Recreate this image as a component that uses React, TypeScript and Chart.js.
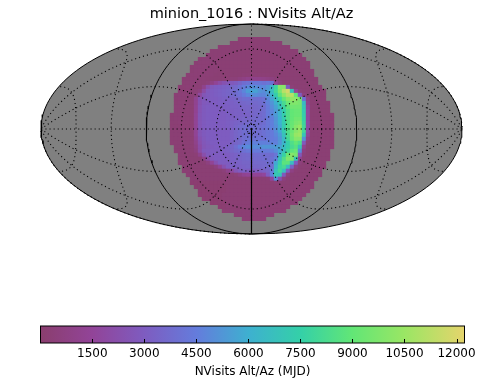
import React, { useEffect, useRef } from "react";
import { Chart, registerables } from "chart.js";

Chart.register(...registerables);

const titleText = "minion_1016 : NVisits Alt/Az";
const colorBarLabel = "NVisits Alt/Az (MJD)";
const colorBarTicks = [1500, 3000, 4500, 6000, 7500, 9000, 10500, 12000];
const colorMin = 6;
const colorMax = 12230;
const colorStops: [number, number[]][] = [
  [0, [138, 62, 110]],
  [1500, [146, 68, 152]],
  [3000, [126, 92, 192]],
  [4500, [100, 124, 220]],
  [6000, [62, 176, 208]],
  [7500, [52, 208, 168]],
  [9000, [98, 230, 118]],
  [10500, [154, 230, 100]],
  [12230, [229, 212, 108]],
];

// Grid rings (degrees from the zenith) and spokes (degrees of azimuth).
const dottedRings = [4, 30, 60, 120, 150];
const horizonRings = [90];
const spokeAzimuths = [0, 30, 60, 90, 120, 150, 180, 210, 240, 270, 300, 330];

// NVisits per sky cell, in hundreds of visits, top row to bottom row.
const visitUnit = 100;
const rowFirstColumn = [18, 16, 13, 11, 10, 8, 7, 6, 6, 5, 4, 4, 3, 3, 2, 2, 2, 2, 2, 1, 1, 1, 1, 1, 1, 1, 1, 2, 2, 3, 3, 3, 4, 4, 5, 6, 6, 7, 8, 8, 9, 11, 13, 14, 17, 19];
const visitRows: number[][] = [
  [2, 2, 2, 2, 2, 2, 2, 2],
  [2, 2, 2, 2, 2, 2, 2, 2, 2, 2, 2, 2, 2],
  [2, 2, 2, 2, 2, 2, 2, 2, 2, 2, 2, 2, 2, 2, 2, 2, 2, 2],
  [2, 2, 2, 2, 2, 2, 2, 2, 2, 2, 2, 2, 2, 2, 2, 2, 2, 2, 2, 2, 2, 2],
  [2, 2, 2, 2, 2, 2, 2, 2, 2, 2, 2, 2, 2, 2, 2, 2, 2, 2, 2, 2, 2, 2, 2, 2],
  [2, 3, 3, 3, 2, 2, 2, 2, 2, 2, 2, 2, 2, 2, 2, 2, 2, 2, 2, 2, 2, 2, 2, 2, 2, 2, 2],
  [2, 3, 3, 3, 3, 3, 2, 2, 2, 2, 2, 2, 2, 2, 2, 2, 2, 2, 2, 2, 2, 2, 2, 2, 2, 2, 2, 2, 2],
  [2, 3, 3, 3, 3, 3, 3, 2, 2, 2, 2, 2, 2, 2, 2, 2, 2, 2, 2, 2, 2, 2, 2, 2, 2, 2, 2, 2, 2, 2],
  [2, 3, 3, 3, 3, 3, 3, 2, 2, 2, 2, 2, 2, 2, 2, 2, 2, 2, 2, 2, 2, 2, 2, 2, 2, 2, 2, 2, 2, 2, 2],
  [2, 3, 3, 3, 3, 3, 3, 2, 2, 2, 2, 2, 2, 2, 3, 3, 3, 3, 3, 3, 3, 2, 2, 2, 2, 2, 2, 2, 2, 2, 2, 2],
  [2, 2, 3, 3, 3, 3, 2, 2, 2, 2, 3, 3, 4, 4, 6, 8, 10, 10, 10, 10, 9, 8, 6, 4, 3, 2, 2, 2, 2, 2, 2, 2, 2, 2],
  [2, 2, 3, 3, 3, 3, 4, 8, 14, 20, 24, 26, 28, 30, 34, 38, 40, 42, 42, 42, 40, 42, 40, 14, 6, 2, 2, 2, 2, 2, 2, 2, 2, 2],
  [2, 2, 3, 3, 3, 3, 10, 22, 28, 30, 31, 32, 33, 34, 36, 40, 44, 48, 50, 50, 48, 48, 52, 62, 78, 100, 100, 30, 4, 2, 2, 2, 2, 2, 2, 2],
  [2, 2, 3, 3, 4, 6, 20, 28, 30, 31, 32, 33, 34, 36, 38, 42, 48, 54, 56, 56, 52, 50, 54, 66, 80, 96, 112, 118, 70, 14, 4, 2, 2, 2, 2, 2, 2],
  [2, 3, 3, 3, 3, 4, 18, 26, 29, 30, 31, 32, 33, 34, 36, 38, 40, 44, 48, 50, 50, 48, 48, 52, 62, 74, 88, 102, 112, 112, 90, 30, 6, 2, 2, 2, 2, 2],
  [2, 3, 3, 3, 3, 12, 24, 28, 29, 30, 30, 31, 32, 32, 33, 34, 36, 38, 38, 38, 38, 38, 40, 48, 56, 66, 78, 90, 100, 104, 102, 96, 40, 8, 2, 2, 2, 2],
  [2, 3, 3, 3, 3, 12, 24, 28, 29, 30, 30, 31, 31, 32, 32, 33, 34, 35, 36, 36, 36, 37, 39, 46, 52, 60, 70, 82, 92, 98, 98, 96, 64, 10, 2, 2, 2, 2, 2],
  [3, 3, 3, 3, 3, 13, 25, 29, 30, 30, 30, 30, 31, 31, 32, 32, 33, 34, 34, 34, 35, 36, 38, 44, 50, 56, 66, 78, 88, 94, 94, 94, 70, 14, 2, 2, 2, 2, 2],
  [3, 3, 3, 3, 3, 13, 25, 29, 30, 30, 30, 30, 30, 31, 31, 32, 32, 33, 34, 34, 35, 36, 38, 44, 48, 54, 62, 74, 84, 90, 92, 92, 72, 16, 2, 2, 2, 2, 2],
  [2, 3, 3, 3, 3, 3, 14, 26, 29, 30, 30, 30, 30, 30, 31, 31, 32, 32, 33, 33, 34, 35, 36, 38, 44, 48, 54, 62, 74, 84, 90, 92, 92, 74, 16, 2, 2, 2, 2, 2, 2],
  [2, 3, 3, 3, 3, 3, 14, 26, 29, 30, 30, 30, 30, 30, 31, 31, 32, 33, 34, 34, 35, 36, 37, 38, 42, 46, 52, 60, 72, 84, 90, 94, 94, 76, 16, 2, 2, 2, 2, 2, 2],
  [2, 2, 3, 3, 3, 3, 14, 26, 29, 30, 30, 30, 30, 30, 31, 32, 33, 34, 35, 36, 36, 37, 37, 38, 42, 46, 52, 60, 72, 84, 91, 96, 98, 78, 18, 2, 2, 2, 2, 2, 2],
  [2, 2, 2, 3, 3, 3, 14, 26, 29, 30, 30, 30, 30, 30, 31, 32, 34, 36, 38, 38, 38, 38, 38, 40, 42, 46, 50, 58, 72, 84, 92, 100, 104, 80, 18, 2, 2, 2, 2, 2, 2],
  [2, 2, 2, 2, 3, 3, 14, 26, 29, 30, 30, 30, 30, 30, 30, 32, 34, 36, 38, 38, 38, 38, 38, 40, 42, 44, 50, 58, 72, 84, 92, 100, 104, 80, 18, 2, 2, 2, 2, 2, 2],
  [2, 2, 2, 2, 2, 3, 14, 26, 29, 30, 30, 30, 30, 30, 30, 32, 34, 36, 38, 38, 38, 38, 38, 40, 42, 44, 48, 54, 68, 82, 94, 104, 106, 70, 14, 2, 2, 2, 2, 2, 2],
  [2, 2, 2, 2, 2, 3, 12, 24, 28, 30, 30, 30, 30, 30, 30, 32, 34, 36, 38, 40, 40, 40, 40, 40, 42, 44, 46, 52, 64, 80, 92, 100, 100, 52, 8, 2, 2, 2, 2, 2, 2],
  [2, 2, 2, 2, 2, 3, 10, 22, 27, 29, 30, 30, 30, 30, 30, 32, 34, 36, 40, 44, 46, 46, 46, 46, 46, 46, 46, 52, 62, 74, 84, 90, 84, 28, 4, 2, 2, 2, 2, 2, 2],
  [2, 2, 2, 2, 3, 8, 20, 26, 28, 29, 30, 30, 30, 32, 34, 38, 44, 48, 50, 50, 50, 50, 52, 52, 52, 54, 56, 66, 74, 82, 86, 70, 12, 2, 2, 2, 2, 2, 2, 2],
  [2, 2, 2, 2, 3, 6, 20, 28, 29, 30, 30, 30, 31, 32, 34, 36, 38, 40, 42, 44, 44, 44, 44, 44, 46, 50, 58, 68, 78, 88, 92, 50, 6, 2, 2, 2, 2, 2, 2],
  [2, 2, 2, 2, 3, 10, 22, 28, 30, 30, 30, 30, 30, 32, 33, 34, 35, 36, 37, 38, 38, 38, 38, 38, 42, 62, 76, 92, 100, 96, 28, 4, 2, 2, 2, 2, 2, 2],
  [2, 2, 2, 2, 2, 2, 10, 20, 28, 30, 30, 30, 30, 32, 33, 34, 35, 36, 36, 37, 37, 38, 38, 40, 46, 68, 84, 98, 98, 70, 12, 2, 2, 2, 2, 2, 2, 2],
  [2, 2, 2, 2, 2, 2, 2, 6, 14, 24, 30, 30, 30, 32, 32, 33, 34, 34, 35, 36, 36, 36, 38, 40, 58, 74, 88, 88, 66, 30, 5, 2, 2, 2, 2, 2, 2],
  [2, 2, 2, 2, 2, 2, 2, 2, 6, 14, 24, 30, 32, 32, 32, 33, 34, 34, 34, 35, 36, 36, 38, 62, 78, 82, 66, 32, 8, 2, 2, 2, 2, 2, 2, 2],
  [2, 2, 2, 2, 2, 2, 2, 2, 2, 2, 4, 10, 18, 26, 30, 32, 30, 30, 30, 30, 32, 34, 44, 68, 80, 66, 30, 8, 3, 2, 2, 2, 2, 2, 2],
  [2, 2, 2, 2, 2, 2, 2, 2, 2, 2, 2, 2, 4, 8, 12, 14, 14, 14, 14, 16, 30, 46, 72, 68, 28, 6, 2, 2, 2, 2, 2, 2, 2, 2],
  [2, 2, 2, 2, 2, 2, 2, 2, 2, 2, 2, 2, 2, 2, 2, 2, 2, 2, 2, 3, 16, 50, 24, 6, 2, 2, 2, 2, 2, 2, 2, 2],
  [1, 1, 1, 1, 1, 1, 1, 1, 2, 2, 2, 2, 2, 2, 2, 2, 2, 2, 2, 2, 2, 3, 3, 2, 2, 2, 2, 2, 2, 2, 2],
  [1, 1, 1, 1, 1, 1, 1, 1, 2, 2, 2, 2, 2, 2, 2, 2, 2, 2, 2, 2, 2, 2, 2, 2, 2, 2, 2, 2, 2, 2],
  [1, 1, 1, 1, 1, 1, 1, 2, 2, 2, 2, 2, 2, 2, 2, 2, 2, 2, 2, 2, 2, 2, 2, 2, 2, 2, 2, 2],
  [1, 1, 1, 1, 1, 1, 2, 2, 2, 2, 2, 2, 2, 2, 2, 2, 2, 2, 2, 2, 2, 2, 2, 2, 2, 2, 2],
  [1, 1, 1, 1, 1, 2, 2, 2, 2, 2, 2, 2, 2, 2, 2, 2, 2, 2, 2, 2, 2, 2, 2, 2, 2],
  [1, 1, 1, 1, 2, 2, 2, 2, 2, 2, 2, 2, 2, 2, 2, 2, 2, 2, 2, 2, 2, 2],
  [1, 1, 2, 2, 2, 2, 2, 2, 2, 2, 2, 2, 2, 2, 2, 2, 2, 2],
  [2, 2, 2, 2, 2, 2, 2, 2, 2, 2, 2, 2, 2, 2, 2, 2],
  [2, 2, 2, 2, 2, 2, 2, 2, 2, 2],
  [2, 2, 2, 2, 2, 2],
];

const RAD = Math.PI / 180;
const SQRT2 = Math.SQRT2;
const GAP = { x: NaN, y: NaN };

function mollweide(lon: number, lat: number) {
  let t = lat;
  if (Math.abs(lat) < Math.PI / 2 - 1e-6) {
    for (let i = 0; i < 30; i++) {
      const f = 2 * t + Math.sin(2 * t) - Math.PI * Math.sin(lat);
      t -= f / (2 + 2 * Math.cos(2 * t));
    }
  }
  return { x: ((2 * SQRT2) / Math.PI) * lon * Math.cos(t), y: SQRT2 * Math.sin(t) };
}

// Point at angular distance theta from the zenith (the map's centre), in direction az.
function zenithPoint(theta: number, az: number) {
  const px = Math.cos(theta * RAD);
  const py = Math.sin(theta * RAD) * Math.cos(az * RAD);
  const pz = Math.sin(theta * RAD) * Math.sin(az * RAD);
  return { lon: Math.atan2(py, px), lat: Math.asin(Math.max(-1, Math.min(1, pz))) };
}

function trace(samples: { lon: number; lat: number }[]) {
  const out: { x: number; y: number }[] = [];
  let prev: number | null = null;
  for (const s of samples) {
    if (prev !== null && Math.abs(s.lon - prev) > Math.PI) out.push(GAP);
    out.push(mollweide(s.lon, s.lat));
    prev = s.lon;
  }
  out.push(GAP);
  return out;
}

function ringPoints(rings: number[]) {
  return rings.flatMap((theta) => {
    const samples = [];
    for (let a = 0; a <= 360; a += 2) samples.push(zenithPoint(theta, a));
    return trace(samples);
  });
}

function spokePoints() {
  return spokeAzimuths.flatMap((az) => {
    const samples = [];
    for (let t = 0; t <= 180; t += 2) samples.push(zenithPoint(t, az));
    return trace(samples);
  });
}

function outlinePoints() {
  const pts = [];
  for (let l = -90; l <= 90; l += 2) pts.push(mollweide(Math.PI, l * RAD));
  for (let l = 90; l >= -90; l -= 2) pts.push(mollweide(-Math.PI, l * RAD));
  pts.push(pts[0]);
  return pts;
}

function azimuthLine() {
  const pts = [];
  for (let l = 0; l >= -90; l -= 5) pts.push(mollweide(0, l * RAD));
  return pts;
}

function colorFor(v: number) {
  for (let i = 1; i < colorStops.length; i++) {
    const [v1, c1] = colorStops[i];
    const [v0, c0] = colorStops[i - 1];
    if (v <= v1) {
      const f = Math.max(0, (v - v0) / (v1 - v0));
      const c = c0.map((k, n) => Math.round(k + (c1[n] - k) * f));
      return `rgb(${c[0]},${c[1]},${c[2]})`;
    }
  }
  const last = colorStops[colorStops.length - 1][1];
  return `rgb(${last[0]},${last[1]},${last[2]})`;
}

const FONT = "'DejaVu Sans'";
const PX_PER_UNIT = 421 / (4 * SQRT2);
const CELL = 4 / PX_PER_UNIT;
const COLUMN_ZERO = -20.875;
const ROW_ZERO = 22.5;

function cellPoints() {
  const pts: { x: number; y: number }[] = [];
  const colors: string[] = [];
  visitRows.forEach((row, r) => {
    row.forEach((v, i) => {
      pts.push({
        x: (rowFirstColumn[r] + i + COLUMN_ZERO) * CELL,
        y: (ROW_ZERO - r) * CELL,
      });
      colors.push(colorFor(v * visitUnit));
    });
  });
  return { pts, colors };
}

export default function App() {
  const mapRef = useRef<HTMLCanvasElement>(null);
  const barRef = useRef<HTMLCanvasElement>(null);

  useEffect(() => {
    const { pts, colors } = cellPoints();
    const lim = 2 * SQRT2;
    const line = { showLine: true, pointRadius: 0, tension: 0, clip: false, spanGaps: false };
    const map = new Chart(mapRef.current!, {
      type: "scatter",
      data: {
        datasets: [
          { ...line, data: azimuthLine(), borderColor: "#000", borderWidth: 1.2, order: 1 },
          { ...line, data: ringPoints(horizonRings), borderColor: "#000", borderWidth: 1, order: 2 },
          { ...line, data: [...ringPoints(dottedRings), ...spokePoints()], borderColor: "#000", borderWidth: 1.1, borderDash: [1.1, 3], order: 3 },
          { data: pts, pointStyle: "rect", pointRadius: 3.1, pointBorderWidth: 0, pointBackgroundColor: colors, showLine: false, order: 4 },
          { ...line, data: outlinePoints(), borderColor: "#000", borderWidth: 1, backgroundColor: "#808080", fill: "shape", order: 5 },
        ],
      } as any,
      options: {
        responsive: false,
        animation: false,
        layout: { padding: { left: 41, right: 30, top: 0, bottom: 151 } },
        scales: {
          x: { type: "linear", min: -lim, max: lim, display: false },
          y: { type: "linear", min: -SQRT2, max: SQRT2, display: false },
        },
        plugins: {
          legend: { display: false },
          tooltip: { enabled: false },
          title: {
            display: true,
            text: titleText,
            color: "#000",
            font: { family: FONT, size: 14.5, weight: "normal" },
            padding: { top: 5.6, bottom: 1 },
          },
        },
      } as any,
    });

    const framePlugin = {
      id: "frame",
      afterDatasetsDraw(chart: any) {
        const { ctx, chartArea: a, scales } = chart;
        ctx.save();
        ctx.strokeStyle = "#000";
        ctx.lineWidth = 1;
        colorBarTicks.forEach((t) => {
          const x = Math.round(scales.x.getPixelForValue(t)) + 0.5;
          ctx.beginPath();
          ctx.moveTo(x, a.bottom - 4);
          ctx.lineTo(x, a.bottom);
          ctx.stroke();
        });
        ctx.strokeRect(a.left, a.top, a.right - a.left, a.bottom - a.top);
        ctx.restore();
      },
    };

    const bar = new Chart(barRef.current!, {
      type: "bar",
      data: {
        labels: [colorBarLabel],
        datasets: [
          {
            data: [[colorMin, colorMax]],
            borderWidth: 0,
            barPercentage: 1,
            categoryPercentage: 1,
            backgroundColor: (c: any) => {
              const area = c.chart.chartArea;
              if (!area) return colorFor(colorMin);
              const g = c.chart.ctx.createLinearGradient(area.left, 0, area.right, 0);
              colorStops.forEach(([v, col]) => {
                const f = Math.max(0, (v - colorMin) / (colorMax - colorMin));
                g.addColorStop(f, `rgb(${col[0]},${col[1]},${col[2]})`);
              });
              return g;
            },
          },
        ],
      } as any,
      options: {
        indexAxis: "y",
        responsive: false,
        animation: false,
        layout: { padding: { left: 40.5, right: 27.5, top: 16, bottom: 0 } },
        scales: {
          y: { display: false },
          x: {
            type: "linear",
            min: colorMin,
            max: colorMax,
            afterBuildTicks: (s: any) => {
              s.ticks = colorBarTicks.map((value) => ({ value }));
            },
            afterFit: (s: any) => {
              s.height = 42;
            },
            grid: { display: false, drawTicks: false },
            border: { display: false },
            ticks: {
              color: "#000",
              font: { family: FONT, size: 12 },
              padding: 4,
              maxRotation: 0,
              autoSkip: false,
              callback: (v: any) => String(v),
            },
            title: {
              display: true,
              text: colorBarLabel,
              color: "#000",
              font: { family: FONT, size: 12 },
              padding: { top: 3, bottom: 6 },
            },
          },
        },
        plugins: { legend: { display: false }, tooltip: { enabled: false }, title: { display: false } },
      } as any,
      plugins: [framePlugin],
    });

    return () => {
      map.destroy();
      bar.destroy();
    };
  }, []);

  return (
    <div style={{ position: "absolute", left: 0, top: 0, width: 492, height: 385, background: "#fff" }}>
      <canvas ref={mapRef} width={492} height={385} style={{ position: "absolute", left: 0, top: 0 }} />
      <canvas ref={barRef} width={492} height={75} style={{ position: "absolute", left: 0, top: 310 }} />
    </div>
  );
}
